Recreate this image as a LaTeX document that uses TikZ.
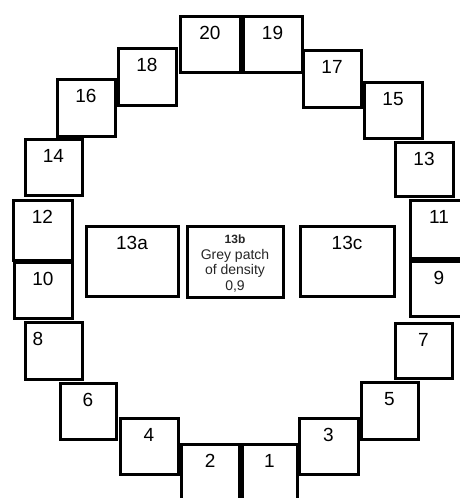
\documentclass[tikz,border=0pt]{standalone}
\usepackage{fontspec}
\setmainfont{Liberation Sans}
\begin{document}
\begin{tikzpicture}[x=1pt,y=-1pt,
  sqb/.style={draw=black, line width=3pt, inner sep=0pt, outer sep=0pt, fill=white},
  lbl/.style={font=\fontsize{19}{21}\selectfont, inner sep=0pt, text=black},
  small/.style={font=\fontsize{14}{15.5}\selectfont, inner sep=0pt, text=black!85, align=center}]
\useasboundingbox (0,0) rectangle (460,498);
\clip (0,0) rectangle (460,498);
\newcommand\sqbox[6]{%
  \node[sqb, minimum width={(#4-#2)*1pt}, minimum height={(#5-#3)*1pt}] (n#1) at ({(#2+#4)/2},{(#3+#5)/2}) {};
  \node[lbl] (l#1) at ({(#2+#4)/2},{#3+17}) {#6};}
\sqbox{20}{180}{16}{240}{72}{20}
\sqbox{19}{243}{16}{302}{72}{19}
\sqbox{18}{118}{48}{176}{105}{18}
\sqbox{16}{57}{79}{115}{136}{16}
\sqbox{14}{25}{139}{82}{195}{14}
\sqbox{12}{13}{200}{72}{260}{12}
\sqbox{10}{14}{262}{72}{318}{10}
\node[sqb, minimum width=57pt, minimum height=57pt] (n8) at (53.5,350.5) {};
\node[lbl] (l8) at (38,339) {8};
\sqbox{6}{60}{383}{116}{439}{6}
\sqbox{4}{120}{418}{178}{474}{4}
\sqbox{2}{181}{444}{239.5}{505}{2}
\sqbox{1}{242}{444}{297}{505}{1}
\sqbox{3}{299}{418}{358}{474}{3}
\sqbox{5}{361}{382}{418}{439}{5}
\sqbox{7}{395}{323}{452}{378}{7}
\sqbox{11}{410}{200}{468}{258}{11}
\sqbox{9}{410}{261}{468}{316}{9}
\sqbox{13}{395}{142}{453}{196}{13}
\sqbox{15}{364}{82}{422}{138}{15}
\sqbox{17}{303}{50}{361}{107}{17}
\sqbox{13a}{86}{226}{178}{296}{13a}
\sqbox{13c}{300}{226}{394}{296}{13c}
\node[sqb, minimum width=96pt, minimum height=71pt] (n13b) at (235,261.5) {};
\node[small] (t13b) at (235,263.5) {{\bfseries\fontsize{12}{13}\selectfont 13b}\\Grey patch\\of density\\0,9};
\end{tikzpicture}
\end{document}
